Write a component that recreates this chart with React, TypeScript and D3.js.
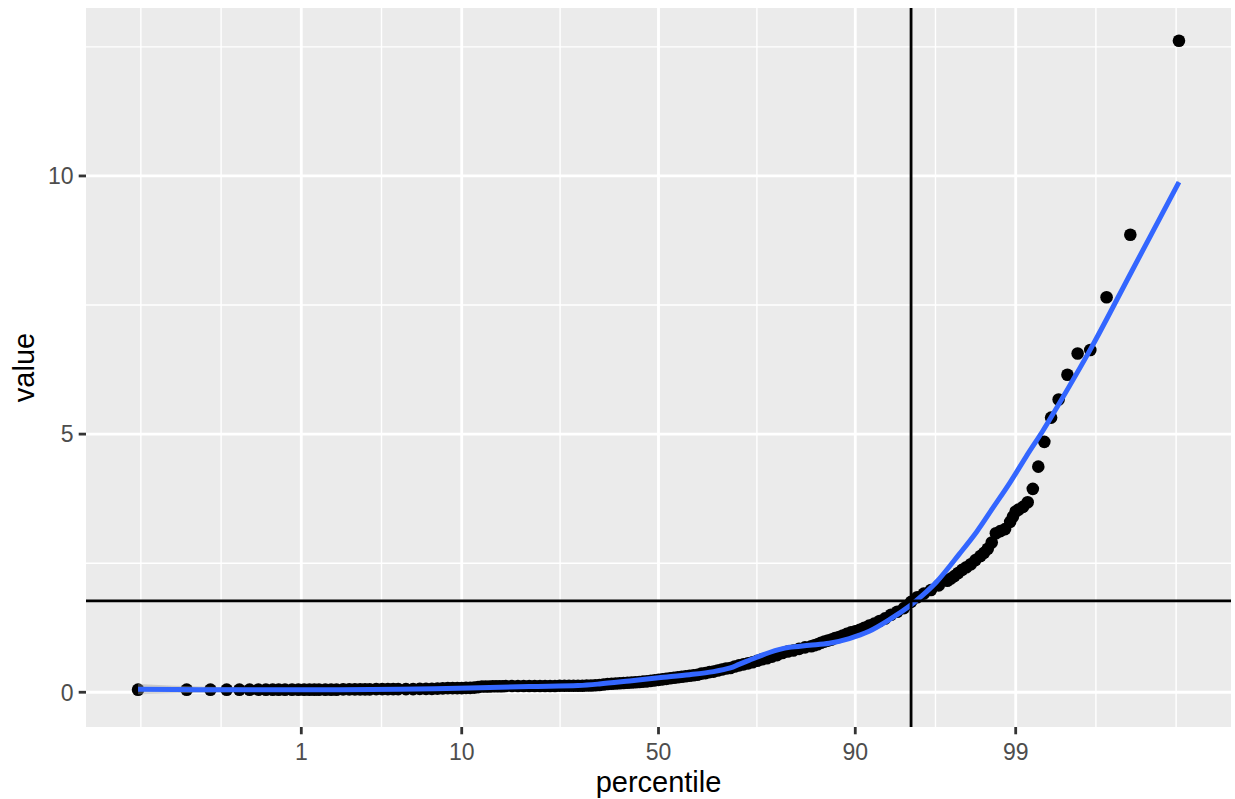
import React from "react";
import * as d3 from "d3";

// ---------- data ----------
const pointPercentiles = [
  0.035, 0.106, 0.176, 0.246, 0.317, 0.387, 0.458, 0.528, 0.599, 0.669,
  0.75, 0.85, 0.95, 1.05, 1.15, 1.25, 1.35,
  1.5, 1.65, 1.8, 2.0, 2.2, 2.4, 2.6, 2.8, 3.0,
  3.3, 3.6, 3.9, 4.2, 4.5,
  5.0, 5.5, 6.0, 6.5, 7.0,
  7.5, 8.0, 8.5, 9.0, 9.5, 10, 10.5, 11, 11.5,
  12, 12.5, 13, 13.5, 14, 14.5, 15, 15.5, 16,
  17, 18, 19, 20, 21, 22, 23, 24, 25, 26, 27, 28, 29, 30, 31, 32, 33, 34,
  35, 36, 37, 38, 39, 40, 41, 42, 43, 44, 45, 46, 47, 48, 49, 50,
  51, 52, 53, 54, 55, 56, 57, 58, 59, 60, 61, 62, 63, 64, 65, 66, 67, 68,
  69, 70, 71, 72, 73, 74, 75, 76, 77, 78, 79, 80, 81, 82, 83, 84,
  84.5, 85, 85.5, 86, 86.5, 87, 87.5, 88, 88.5, 89, 89.5, 90, 90.5, 91,
  91.5, 92, 92.5, 93, 93.5, 94, 94.5, 95,
  95.4, 95.8, 96.2, 96.6, 97.0, 97.15, 97.3, 97.45, 97.6, 97.75, 97.9, 98.05, 98.2,
  98.3, 98.4, 98.5, 98.6, 98.7, 98.8, 98.9, 98.95, 99.0, 99.05,
  99.12, 99.19, 99.261, 99.331, 99.401, 99.472, 99.542, 99.613, 99.683, 99.754,
  99.824, 99.894, 99.965,
];

const pointValues = [
  0.05, 0.05, 0.05, 0.05, 0.05, 0.05, 0.05, 0.05, 0.05, 0.05,
  0.05, 0.05, 0.05, 0.05, 0.05, 0.05, 0.05,
  0.05, 0.05, 0.05, 0.055, 0.055, 0.055, 0.055, 0.055, 0.055,
  0.06, 0.06, 0.06, 0.06, 0.06,
  0.06, 0.06, 0.065, 0.065, 0.065,
  0.07, 0.075, 0.08, 0.08, 0.08, 0.08, 0.085, 0.085, 0.09,
  0.1, 0.11, 0.11, 0.11, 0.115, 0.115, 0.115, 0.115, 0.12,
  0.12, 0.12, 0.12, 0.12, 0.12, 0.12, 0.12, 0.12, 0.12, 0.125, 0.125, 0.125, 0.125, 0.125, 0.125, 0.13, 0.13, 0.135,
  0.14, 0.15, 0.16, 0.165, 0.17, 0.175, 0.18, 0.185, 0.19, 0.195, 0.2, 0.205, 0.21, 0.22, 0.23, 0.24,
  0.25, 0.26, 0.27, 0.28, 0.29, 0.3, 0.31, 0.32, 0.33, 0.34, 0.36, 0.37, 0.39, 0.4, 0.42, 0.44, 0.46, 0.47,
  0.5, 0.52, 0.54, 0.56, 0.58, 0.61, 0.64, 0.66, 0.69, 0.72, 0.76, 0.79, 0.81, 0.84, 0.87, 0.89,
  0.91, 0.93, 0.96, 0.98, 1.0, 1.02, 1.05, 1.07, 1.1, 1.13, 1.16, 1.18, 1.21, 1.25,
  1.29, 1.33, 1.38, 1.43, 1.5, 1.56, 1.63, 1.75,
  1.84, 1.91, 1.98, 2.07, 2.16, 2.2, 2.25, 2.31, 2.37, 2.42, 2.48, 2.56, 2.64,
  2.7, 2.78, 2.9, 3.08, 3.12, 3.16, 3.3, 3.4, 3.5, 3.54,
  3.59, 3.68, 3.94, 4.37, 4.85, 5.32, 5.67, 6.15, 6.56, 6.63,
  7.65, 8.86, 12.62,
];

// smooth (loess) fit and its standard-error half width
const smoothPercentiles = [
  0.035, 0.14, 0.56, 1.9, 4.6, 10.9, 20, 30, 35, 42.5, 50, 58, 64, 68, 70,
  72.3, 74.5, 76.5, 78.5, 80.3, 83.7, 86.7, 89.3, 91.5, 93.4, 94.9, 95.7,
  96.5, 97.5, 98.09, 98.52, 98.89, 99.17, 99.38, 99.47, 99.76, 99.897, 99.965,
];
const smoothValues = [
  0.06, 0.05, 0.05, 0.05, 0.06, 0.08, 0.11, 0.13, 0.16, 0.22, 0.28, 0.34, 0.4, 0.47, 0.54,
  0.62, 0.7, 0.77, 0.83, 0.87, 0.91, 0.95, 1.04, 1.18, 1.41, 1.67, 1.87,
  2.14, 2.68, 3.11, 3.56, 4.05, 4.57, 5.05, 5.32, 6.68, 8.15, 9.88,
];
const smoothSe = [
  0.1, 0.06, 0.03, 0.02, 0.02, 0.02, 0.02, 0.02, 0.02, 0.02, 0.02, 0.02, 0.02, 0.02, 0.02,
  0.02, 0.02, 0.02, 0.02, 0.02, 0.02, 0.02, 0.02, 0.02, 0.02, 0.02, 0.02,
  0.02, 0.02, 0.02, 0.02, 0.02, 0.02, 0.02, 0.02, 0.03, 0.03, 0.04,
];

const xBreaks = [1, 10, 50, 90, 99];
const xLabels = ["1", "10", "50", "90", "99"];
const yBreaks = [0, 5, 10];
const yLabels = ["0", "5", "10"];
const refPercentile = 95;
const refValue = 1.77;

// ---------- helpers ----------
function qnorm(p: number): number {
  const a = [-3.969683028665376e1, 2.209460984245205e2, -2.759285104469687e2, 1.38357751867269e2, -3.066479806614716e1, 2.506628277459239];
  const b = [-5.447609879822406e1, 1.615858368580409e2, -1.556989798598866e2, 6.680131188771972e1, -1.328068155288572e1];
  const c = [-7.784894002430293e-3, -3.223964580411365e-1, -2.400758277161838, -2.549732539343734, 4.374664141464968, 2.938163982698783];
  const d = [7.784695709041462e-3, 3.224671290700398e-1, 2.445134137142996, 3.754408661907416];
  const plow = 0.02425;
  if (p < plow) {
    const q = Math.sqrt(-2 * Math.log(p));
    return (((((c[0] * q + c[1]) * q + c[2]) * q + c[3]) * q + c[4]) * q + c[5]) /
      ((((d[0] * q + d[1]) * q + d[2]) * q + d[3]) * q + 1);
  } else if (p <= 1 - plow) {
    const q = p - 0.5;
    const r = q * q;
    return ((((((a[0] * r + a[1]) * r + a[2]) * r + a[3]) * r + a[4]) * r + a[5]) * q) /
      (((((b[0] * r + b[1]) * r + b[2]) * r + b[3]) * r + b[4]) * r + 1);
  }
  const q = Math.sqrt(-2 * Math.log(1 - p));
  return -(((((c[0] * q + c[1]) * q + c[2]) * q + c[3]) * q + c[4]) * q + c[5]) /
    ((((d[0] * q + d[1]) * q + d[2]) * q + d[3]) * q + 1);
}
const probit = (pct: number) => qnorm(pct / 100);

function expand(ext: [number, number], m = 0.05): [number, number] {
  const r = ext[1] - ext[0];
  return [ext[0] - r * m, ext[1] + r * m];
}

const W = 1235;
const H = 799;
const PL = 86;
const PR = 1231;
const PT = 8;
const PB = 727;

export default function App() {
  const zExt = d3.extent(pointPercentiles.map(probit)) as [number, number];
  const xs = d3.scaleLinear().domain(expand(zExt)).range([PL, PR]);
  const x = (pct: number) => xs(probit(pct));

  const allY = [
    ...pointValues,
    ...smoothValues.map((v, i) => v - smoothSe[i]),
    ...smoothValues.map((v, i) => v + smoothSe[i]),
  ];
  const yExt = d3.extent(allY) as [number, number];
  const y = d3.scaleLinear().domain(expand(yExt)).range([PB, PT]);

  // ggplot-style minor breaks in transformed space
  const zb = xBreaks.map(probit);
  const bd = zb[1] - zb[0];
  const [zmin, zmax] = xs.domain();
  let ext = [...zb];
  if (zmin < ext[0]) ext = [ext[0] - bd, ...ext];
  if (zmax > ext[ext.length - 1]) ext = [...ext, ext[ext.length - 1] + bd];
  const xMinor: number[] = [];
  for (let i = 0; i < ext.length - 1; i++) {
    xMinor.push(ext[i], (ext[i] + ext[i + 1]) / 2);
  }
  xMinor.push(ext[ext.length - 1]);
  const xMinorIn = xMinor.filter((z) => z >= zmin && z <= zmax);

  const yd = y.domain();
  const ybd = yBreaks[1] - yBreaks[0];
  const yMinor: number[] = [];
  for (let v = yBreaks[0] - ybd; v <= yBreaks[yBreaks.length - 1] + ybd; v += ybd / 2) {
    if (v >= yd[0] && v <= yd[1]) yMinor.push(v);
  }

  const smoothData = smoothPercentiles.map((p, i) => ({ p, v: smoothValues[i], se: smoothSe[i] }));
  const line = d3
    .line<{ p: number; v: number }>()
    .x((d) => x(d.p))
    .y((d) => y(d.v))
    .curve(d3.curveCatmullRom.alpha(0.5));
  const area = d3
    .area<{ p: number; v: number; se: number }>()
    .x((d) => x(d.p))
    .y0((d) => y(d.v - d.se))
    .y1((d) => y(d.v + d.se))
    .curve(d3.curveMonotoneX);

  const font = "'Liberation Sans', Arial, Helvetica, sans-serif";
  const tickFont = 23;
  const titleFont = 29;

  return (
    <svg
      width={W}
      height={H}
      style={{ position: "absolute", left: 0, top: 0, background: "#fff" }}
      fontFamily={font}
    >
      <rect x={0} y={0} width={W} height={H} fill="#ffffff" />
      <defs>
        <clipPath id="panel">
          <rect x={PL} y={PT} width={PR - PL} height={PB - PT} />
        </clipPath>
      </defs>
      <rect x={PL} y={PT} width={PR - PL} height={PB - PT} fill="#EBEBEB" />
      <g clipPath="url(#panel)">
        {xMinorIn.map((z, i) => (
          <line key={"xm" + i} x1={xs(z)} x2={xs(z)} y1={PT} y2={PB} stroke="#fff" strokeWidth={1.4} />
        ))}
        {yMinor.map((v, i) => (
          <line key={"ym" + i} x1={PL} x2={PR} y1={y(v)} y2={y(v)} stroke="#fff" strokeWidth={1.4} />
        ))}
        {xBreaks.map((b, i) => (
          <line key={"xM" + i} x1={x(b)} x2={x(b)} y1={PT} y2={PB} stroke="#fff" strokeWidth={2.8} />
        ))}
        {yBreaks.map((b, i) => (
          <line key={"yM" + i} x1={PL} x2={PR} y1={y(b)} y2={y(b)} stroke="#fff" strokeWidth={2.8} />
        ))}
        {pointPercentiles.map((p, i) => (
          <circle key={"pt" + i} cx={x(p)} cy={y(pointValues[i])} r={6.3} fill="#000" />
        ))}
        <path d={area(smoothData) || ""} fill="#999999" fillOpacity={0.4} />
        <path d={line(smoothData) || ""} fill="none" stroke="#3366FF" strokeWidth={5} />
        <line x1={x(refPercentile)} x2={x(refPercentile)} y1={PT} y2={PB} stroke="#000" strokeWidth={2.8} />
        <line x1={PL} x2={PR} y1={y(refValue)} y2={y(refValue)} stroke="#000" strokeWidth={2.8} />
      </g>
      {/* x axis */}
      {xBreaks.map((b, i) => (
        <g key={"xt" + i}>
          <line x1={x(b)} x2={x(b)} y1={PB} y2={PB + 7.3} stroke="#333333" strokeWidth={2.8} />
          <text x={x(b)} y={760} textAnchor="middle" fontSize={tickFont} fill="#4D4D4D">
            {xLabels[i]}
          </text>
        </g>
      ))}
      {/* y axis */}
      {yBreaks.map((b, i) => (
        <g key={"yt" + i}>
          <line x1={PL - 7.3} x2={PL} y1={y(b)} y2={y(b)} stroke="#333333" strokeWidth={2.8} />
          <text x={PL - 12.5} y={y(b)} dy="0.36em" textAnchor="end" fontSize={tickFont} fill="#4D4D4D">
            {yLabels[i]}
          </text>
        </g>
      ))}
      <text x={(PL + PR) / 2} y={791.5} textAnchor="middle" fontSize={titleFont} fill="#000">
        percentile
      </text>
      <text
        transform={`translate(34, ${(PT + PB) / 2}) rotate(-90)`}
        textAnchor="middle"
        fontSize={titleFont}
        fill="#000"
      >
        value
      </text>
    </svg>
  );
}
